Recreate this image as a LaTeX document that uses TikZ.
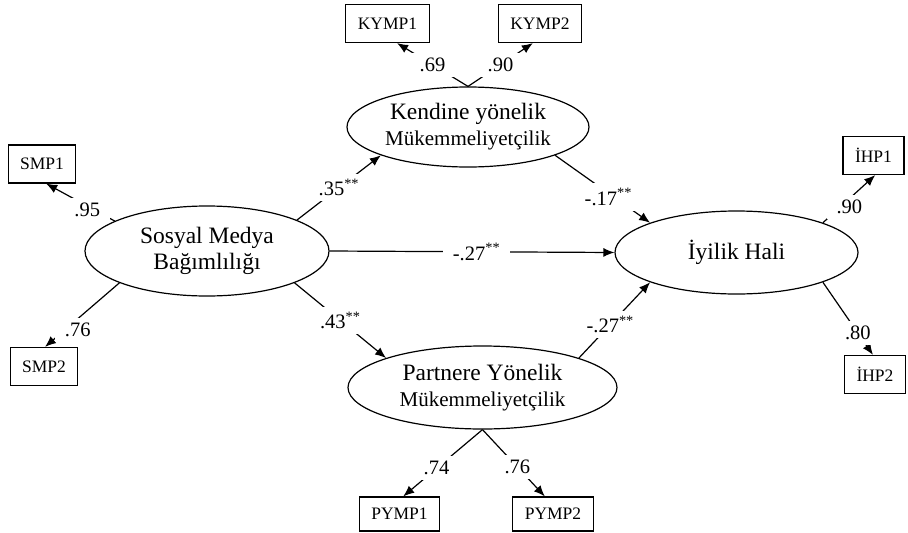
\documentclass[tikz,border=0pt]{standalone}
\usepackage{fontspec}
\setmainfont{Liberation Serif}
\usetikzlibrary{arrows.meta,shapes.geometric}

\newcommand{\subline}{\fontsize{21}{24}\selectfont}
\newcommand{\sig}{\textsuperscript{**}}

\begin{document}
\begin{tikzpicture}[
    x=1pt, y=-1pt,
    >={Latex[length=11pt,width=9pt]},
    latent/.style={ellipse, draw, line width=1.2pt, inner sep=0pt, align=center,
      font=\fontsize{23.5}{26}\selectfont},
    observed/.style={rectangle, draw, line width=1.2pt, inner xsep=12pt, inner ysep=0pt,
      minimum height=38pt, font=\fontsize{17.5}{20}\selectfont},
    conn/.style={->, line width=1.2pt},
    coef/.style={fill=white, inner xsep=10pt, inner ysep=5pt, font=\fontsize{20.5}{22}\selectfont}
  ]
    \useasboundingbox (0,0) rectangle (908,533);

    %=== latent variables ===%
    \node[latent, minimum width=244pt, minimum height=90pt] (smb) at (207,251)
      {Sosyal Medya\\Bağımlılığı};
    \node[latent, minimum width=242pt, minimum height=80pt] (kym) at (468,127)
      {Kendine yönelik\\{\subline Mükemmeliyetçilik}};
    \node[latent, minimum width=269pt, minimum height=83pt] (pym) at (482.5,387.5)
      {Partnere Yönelik\\{\subline Mükemmeliyetçilik}};
    \node[latent, minimum width=243pt, minimum height=83pt] (iyi) at (736.5,252.5)
      {İyilik Hali};

    %=== indicators ===%
    \node[observed] (kymp1) at (387.5,23.5) {KYMP1};
    \node[observed] (kymp2) at (540,23.5)   {KYMP2};
    \node[observed] (smp1)  at (42,164)     {SMP1};
    \node[observed] (smp2)  at (44,366.5)   {SMP2};
    \node[observed] (ihp1)  at (873.5,155.5) {İHP1};
    \node[observed] (ihp2)  at (875,374.5)  {İHP2};
    \node[observed, minimum height=34pt] (pymp1) at (399.5,514) {PYMP1};
    \node[observed, minimum height=34pt] (pymp2) at (553,514)   {PYMP2};

    %=== measurement paths ===%
    \draw[conn] (kym.north) -- node[coef, pos=0.5] {.69} (kymp1.-64);
    \draw[conn] (kym.north) -- node[coef, pos=0.5] {.90} (kymp2.-110);
    \draw[conn] (smb.162) -- node[coef, pos=0.4, yshift=-4pt] {.95} (smp1.-78);
    \draw[conn] (smb.200) -- node[coef, pos=0.64, xshift=6pt, yshift=-6pt] {.76} (smp2.87);
    \draw[conn] (iyi.19) -- node[coef, pos=0.43, xshift=4pt, yshift=-5pt] {.90} (ihp1.-85);
    \draw[conn] (iyi.-19) -- node[coef, pos=0.7] {.80} (ihp2.96);
    \draw[conn] (pym.south) -- node[coef, pos=0.58] {.74} (pymp1.78);
    \draw[conn] (pym.south) -- node[coef, pos=0.56] {.76} (pymp2.115);

    %=== structural paths ===%
    \draw[conn] (smb.19) -- node[coef, pos=0.5] {.35\sig} (kym.198);
    \draw[conn] (smb.-20) -- node[coef, pos=0.5] {.43\sig} (pym.163);
    \draw[conn] (smb.east) -- node[coef, pos=0.516] {-.27\sig} (iyi.west);
    \draw[conn] (kym.-18) -- node[coef, pos=0.56, yshift=-4pt] {-.17\sig} (iyi.161);
    \draw[conn] (pym.17) -- node[coef, pos=0.44] {-.27\sig} (iyi.199);

\end{tikzpicture}
\end{document}
